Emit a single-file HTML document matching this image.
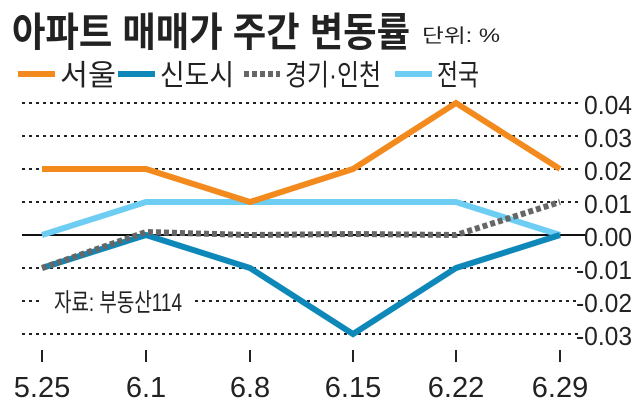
<!DOCTYPE html><html><head><meta charset="utf-8"><style>
body{margin:0;background:#fff;width:640px;height:408px;overflow:hidden}
text{font-family:"Liberation Sans","Noto Sans CJK KR",sans-serif}
</style></head><body>
<svg width="640" height="408" xmlns="http://www.w3.org/2000/svg">
<text x="12" y="46" font-size="40" font-weight="bold" fill="#222" textLength="398" lengthAdjust="spacingAndGlyphs">아파트 매매가 주간 변동률</text>
<text x="422" y="42" font-size="19" fill="#222" textLength="78" lengthAdjust="spacingAndGlyphs">단위: %</text>
<line x1="18" y1="74" x2="55" y2="74" stroke="#f28a1e" stroke-width="6"/>
<text x="60" y="85" font-size="29" fill="#222" textLength="56" lengthAdjust="spacingAndGlyphs">서울</text>
<line x1="118" y1="74" x2="155" y2="74" stroke="#0e88b8" stroke-width="6"/>
<text x="160" y="85" font-size="29" fill="#222" textLength="74" lengthAdjust="spacingAndGlyphs">신도시</text>
<line x1="244" y1="74" x2="280" y2="74" stroke="#666" stroke-width="6" stroke-dasharray="5,3"/>
<text x="285" y="85" font-size="29" fill="#222" textLength="96" lengthAdjust="spacingAndGlyphs">경기·인천</text>
<line x1="395" y1="74" x2="432" y2="74" stroke="#6dcdf3" stroke-width="6"/>
<text x="437" y="85" font-size="29" fill="#222" textLength="42" lengthAdjust="spacingAndGlyphs">전국</text>
<g stroke="#222" stroke-width="2" stroke-dasharray="3,4">
<line x1="22" y1="103" x2="578" y2="103"/><line x1="22" y1="136" x2="578" y2="136"/>
<line x1="22" y1="169" x2="578" y2="169"/><line x1="22" y1="202" x2="578" y2="202"/>
<line x1="22" y1="268" x2="578" y2="268"/>
<line x1="22" y1="301" x2="42" y2="301"/><line x1="195" y1="301" x2="578" y2="301"/>
<line x1="22" y1="334" x2="578" y2="334"/></g>
<line x1="22" y1="235" x2="585" y2="235" stroke="#111" stroke-width="2"/>
<g font-size="26" fill="#222">
<text x="584" y="114" textLength="48" lengthAdjust="spacingAndGlyphs">0.04</text><text x="584" y="147" textLength="48" lengthAdjust="spacingAndGlyphs">0.03</text><text x="584" y="180" textLength="48" lengthAdjust="spacingAndGlyphs">0.02</text><text x="584" y="213" textLength="48" lengthAdjust="spacingAndGlyphs">0.01</text><text x="584" y="246" textLength="48" lengthAdjust="spacingAndGlyphs">0.00</text><text x="576" y="279" textLength="56" lengthAdjust="spacingAndGlyphs">-0.01</text><text x="576" y="312" textLength="56" lengthAdjust="spacingAndGlyphs">-0.02</text><text x="576" y="345" textLength="56" lengthAdjust="spacingAndGlyphs">-0.03</text></g>
<text x="54" y="311" font-size="25" fill="#222" textLength="128" lengthAdjust="spacingAndGlyphs">자료: 부동산114</text>
<g stroke="#222" stroke-width="2"><line x1="42" y1="350" x2="42" y2="362"/><line x1="146" y1="350" x2="146" y2="362"/><line x1="250" y1="350" x2="250" y2="362"/><line x1="353" y1="350" x2="353" y2="362"/><line x1="456" y1="350" x2="456" y2="362"/><line x1="560" y1="350" x2="560" y2="362"/></g>
<g font-size="29" fill="#222" text-anchor="middle"><text x="42" y="397">5.25</text><text x="146" y="397">6.1</text><text x="250" y="397">6.8</text><text x="353" y="397">6.15</text><text x="456" y="397">6.22</text><text x="560" y="397">6.29</text></g>
<g fill="none" stroke-width="6" stroke-linejoin="miter">
<polyline points="42,235 146,202 250,202 353,202 456,202 560,235" stroke="#6dcdf3"/>
<polyline points="42,268 146,235 250,268 353,334 456,268 560,235" stroke="#0e88b8"/>
<polyline points="42,268 146,232 250,235 353,234 456,235 560,202" stroke="#666" stroke-dasharray="5,3"/>
<polyline points="42,169 146,169 250,202 353,169 456,103 560,169" stroke="#f28a1e"/>
</g>
</svg></body></html>
